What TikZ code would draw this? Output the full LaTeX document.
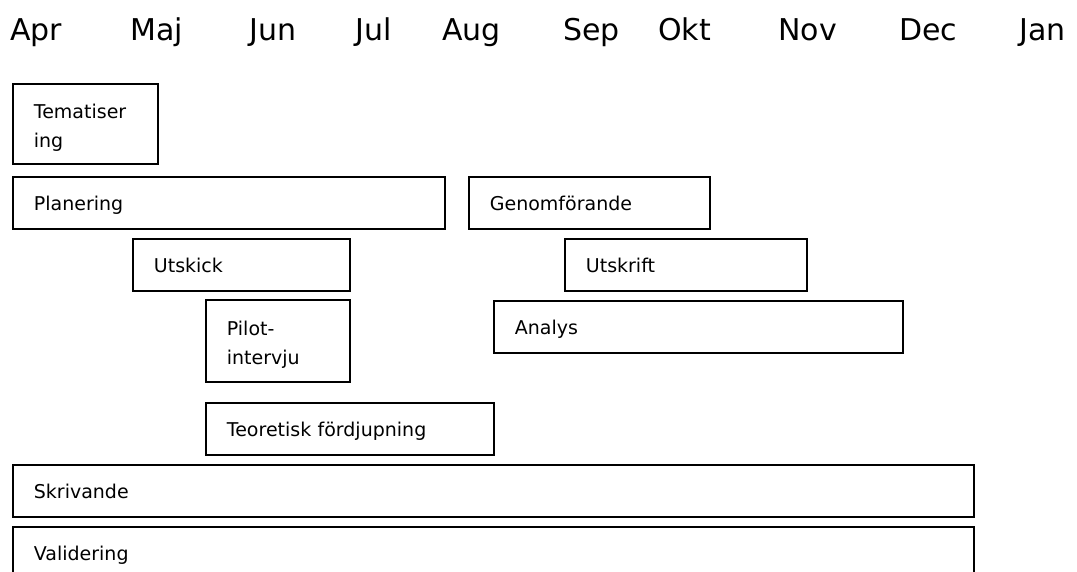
\documentclass[tikz,border=0pt]{standalone}
\usepackage{fontspec}
\setmainfont{DejaVu Sans}

\begin{document}
\begin{tikzpicture}[x=1pt,y=-1pt,
    aktivitet/.style={draw, line width=1.8pt, anchor=north west, inner xsep=21pt, inner ysep=0pt,
        align=left, text height=34pt, text depth=18pt, font=\fontsize{19}{29}\selectfont},
    manad/.style={anchor=base west, inner sep=0pt, font=\fontsize{30}{34}\selectfont}]
    \useasboundingbox (0,0) rectangle (1077,572);
    \clip (0,0) rectangle (1077,572);

    \node[manad] (apr) at (10,41) {Apr};
    \node[manad] (maj) at (130,41) {Maj};
    \node[manad] (jun) at (249,41) {Jun};
    \node[manad] (jul) at (355,41) {Jul};
    \node[manad] (aug) at (442,41) {Aug};
    \node[manad] (sep) at (563,41) {Sep};
    \node[manad] (okt) at (658,41) {Okt};
    \node[manad] (nov) at (778,41) {Nov};
    \node[manad] (dec) at (899,41) {Dec};
    \node[manad] (jan) at (1019,41) {Jan};

    \node[aktivitet, text width=103pt, text height=35pt, text depth=45pt] (tema) at (12,83) {Tematiser\\ing};
    \node[aktivitet, text width=390pt] (plan) at (12,176) {Planering};
    \node[aktivitet, text width=199pt] (genom) at (468,176) {Genomförande};
    \node[aktivitet, text width=175pt] (utskick) at (132,238) {Utskick};
    \node[aktivitet, text width=200pt] (utskrift) at (564,238) {Utskrift};
    \node[aktivitet, text width=102pt, text height=36pt, text depth=46pt] (pilot) at (205,299) {Pilot-\\intervju};
    \node[aktivitet, text width=367pt] (analys) at (493,300) {Analys};
    \node[aktivitet, text width=246pt] (teori) at (205,402) {Teoretisk fördjupning};
    \node[aktivitet, text width=919pt] (skriv) at (12,464) {Skrivande};
    \node[aktivitet, text width=919pt] (valid) at (12,526) {Validering};
\end{tikzpicture}
\end{document}
